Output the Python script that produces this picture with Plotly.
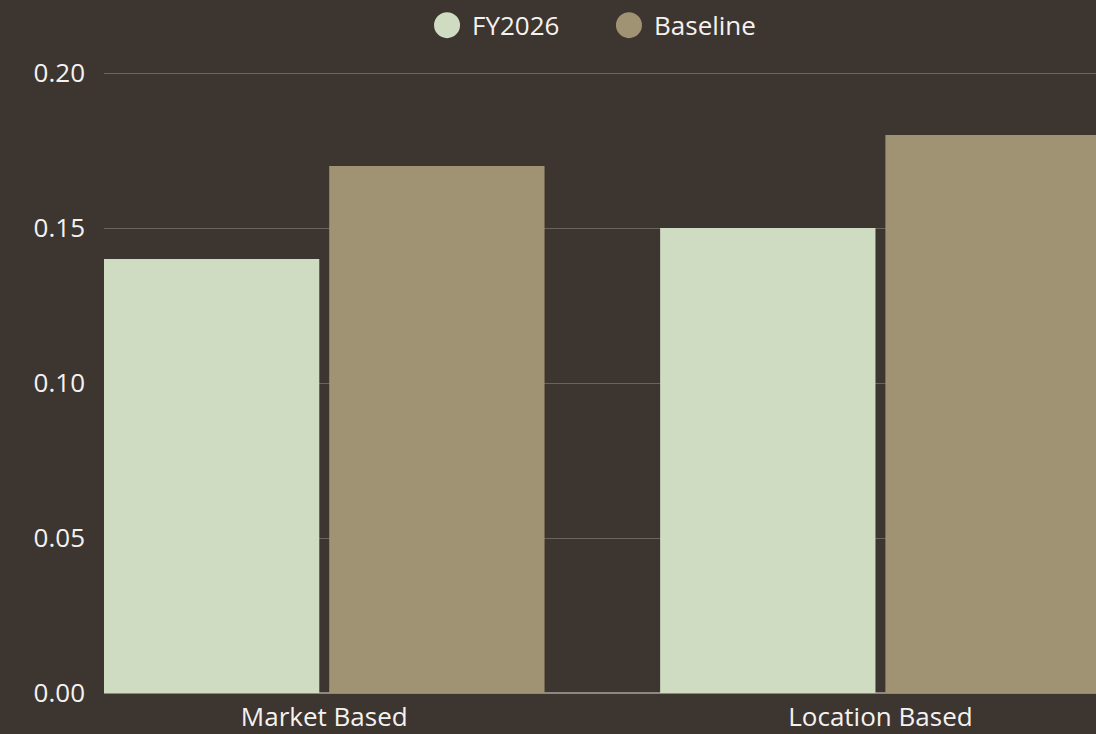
import plotly.graph_objects as go

categories = ["Market Based", "Location Based"]
fy2026 = [0.14, 0.15]
baseline = [0.17, 0.18]
series_names = ["FY2026", "Baseline"]
colors = ["#cfdcc1", "#a09373"]
y_ticks = [0.0, 0.05, 0.10, 0.15, 0.20]
y_tick_labels = ["0.00", "0.05", "0.10", "0.15", "0.20"]

BG = "#3d3530"
FONT = "Open Sans"
TXT = "#f4f2f0"
FS = 26

fig = go.Figure()
for name, vals, col in zip(series_names, [fy2026, baseline], colors):
    fig.add_trace(go.Bar(x=categories, y=vals, name=name, marker=dict(color=col, line=dict(width=0)),
                         showlegend=False))

# custom legend with large circle markers
legend_x = [0.3458, 0.5292]
for name, col, lx in zip(series_names, colors, legend_x):
    fig.add_shape(type="circle", xref="paper", yref="paper", xsizemode="pixel", ysizemode="pixel",
                  xanchor=lx, yanchor=1.072, x0=-13, x1=13, y0=-13, y1=13,
                  fillcolor=col, line=dict(width=0))
    fig.add_annotation(xref="paper", yref="paper", x=lx, y=1.072, xshift=23, text=name,
                       showarrow=False, xanchor="left", yanchor="middle",
                       font=dict(family=FONT, size=FS, color=TXT))

fig.update_layout(
    width=1096, height=734,
    paper_bgcolor=BG, plot_bgcolor=BG,
    margin=dict(l=104, r=0, t=70, b=41, pad=0),
    barmode="group", bargap=0.19, bargroupgap=0.044,
    font=dict(family=FONT, size=FS, color=TXT),
    showlegend=False,
    xaxis=dict(range=[-0.396, 1.3876], showgrid=False, showline=False, zeroline=False,
               ticks="", tickfont=dict(size=FS, color=TXT), ticklabelstandoff=6),
    yaxis=dict(range=[0, 0.201], tickvals=y_ticks, ticktext=y_tick_labels,
               showgrid=True, gridcolor="#6a6460", gridwidth=1,
               zeroline=True, zerolinecolor="#8c8782", zerolinewidth=2,
               showline=False, ticks="", tickfont=dict(size=FS, color=TXT),
               ticklabelstandoff=18),
)

fig.write_html("out.html")
